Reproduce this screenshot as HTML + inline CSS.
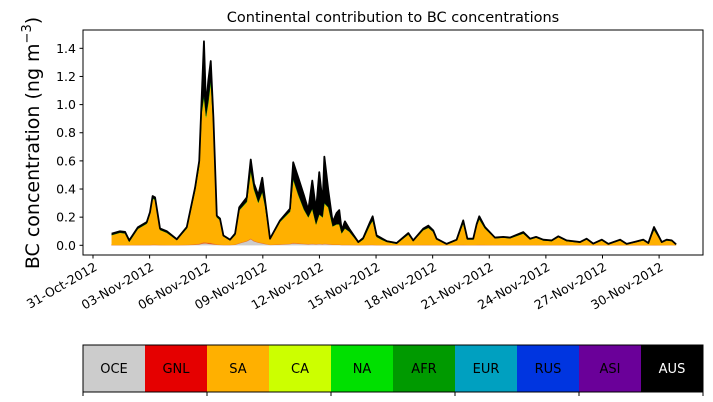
<!DOCTYPE html>
<html><head><meta charset="utf-8"><style>
html,body{margin:0;padding:0;background:#fff;}
svg{display:block;font-family:"DejaVu Sans","Liberation Sans",sans-serif;}
</style></head><body>
<svg id="chart" width="713" height="402" viewBox="0 0 713 402" xmlns="http://www.w3.org/2000/svg">
<text x="393" y="22" font-size="14.5" text-anchor="middle">Continental contribution to BC concentrations</text>
<text transform="translate(39,143) rotate(-90)" font-size="19" text-anchor="middle">BC concentration (ng m<tspan dy="-8" font-size="13">−3</tspan><tspan dy="8">)</tspan></text>
<g id="marks"></g>
<g id="yaxis"></g>
<g id="xaxis"></g>
<rect x="83" y="30" width="620" height="225" fill="none" stroke="#000" stroke-width="1"/>
<g id="legend"></g>
</svg>
<script>
// days since 31-Oct-2012
const days = [0.99,1.43,1.70,1.92,2.38,2.85,3.02,3.16,3.29,3.55,3.91,4.44,4.97,5.41,5.63,5.76,5.88,5.99,6.11,6.24,6.38,6.56,6.73,6.91,7.26,7.53,7.75,8.15,8.36,8.53,8.76,8.97,9.12,9.38,9.91,10.44,10.61,10.88,11.18,11.41,11.62,11.82,11.99,12.17,12.26,12.47,12.70,12.91,13.05,13.18,13.35,13.58,14.06,14.32,14.68,14.82,15.03,15.30,15.56,16.09,16.71,16.97,17.50,17.77,18.03,18.21,18.74,19.27,19.62,19.84,20.15,20.33,20.47,20.77,21.30,21.74,22.10,22.80,23.16,23.48,23.86,24.31,24.66,25.10,25.81,26.16,26.51,26.96,27.31,27.93,28.28,29.16,29.43,29.73,30.14,30.40,30.67,30.90];
const totalVals = [0.083,0.10,0.095,0.035,0.128,0.165,0.236,0.35,0.34,0.12,0.10,0.043,0.13,0.41,0.60,1.05,1.45,0.98,1.17,1.31,0.91,0.21,0.19,0.07,0.04,0.083,0.27,0.34,0.61,0.44,0.355,0.48,0.32,0.047,0.177,0.26,0.59,0.48,0.355,0.25,0.46,0.25,0.52,0.30,0.63,0.39,0.165,0.23,0.25,0.106,0.17,0.118,0.023,0.052,0.165,0.206,0.07,0.05,0.03,0.016,0.087,0.035,0.118,0.14,0.106,0.047,0.01,0.04,0.177,0.047,0.047,0.15,0.206,0.13,0.055,0.06,0.055,0.094,0.047,0.06,0.04,0.035,0.064,0.035,0.023,0.047,0.012,0.04,0.01,0.04,0.01,0.04,0.016,0.13,0.023,0.04,0.035,0.007];
const ausVals = [0.01,0.01,0.01,0.01,0.01,0.01,0.01,0.015,0.015,0.01,0.01,0.005,0.01,0.02,0.03,0.10,0.39,0.06,0.15,0.14,0.05,0.01,0.01,0.005,0.005,0.01,0.02,0.03,0.08,0.04,0.05,0.10,0.04,0.005,0.01,0.02,0.12,0.12,0.10,0.05,0.20,0.10,0.30,0.10,0.33,0.12,0.03,0.08,0.10,0.02,0.05,0.02,0.005,0.01,0.02,0.03,0.01,0.01,0.005,0.005,0.01,0.005,0.01,0.015,0.01,0.005,0.003,0.005,0.02,0.005,0.005,0.01,0.02,0.01,0.005,0.005,0.005,0.01,0.005,0.005,0.005,0.005,0.005,0.005,0.003,0.005,0.003,0.005,0.003,0.005,0.003,0.005,0.003,0.02,0.003,0.005,0.005,0.002];
const oceVals = [0.002,0.002,0.002,0.002,0.002,0.002,0.002,0.003,0.003,0.002,0.002,0.002,0.003,0.005,0.008,0.012,0.015,0.015,0.012,0.01,0.008,0.005,0.004,0.003,0.003,0.005,0.015,0.03,0.045,0.03,0.02,0.015,0.01,0.004,0.006,0.01,0.015,0.012,0.01,0.008,0.01,0.008,0.01,0.008,0.01,0.008,0.005,0.005,0.005,0.003,0.003,0.003,0.002,0.002,0.003,0.003,0.002,0.002,0.002,0.002,0.002,0.002,0.002,0.002,0.002,0.002,0.001,0.002,0.003,0.002,0.002,0.002,0.003,0.002,0.002,0.002,0.002,0.002,0.002,0.002,0.002,0.002,0.002,0.002,0.002,0.002,0.001,0.002,0.001,0.002,0.001,0.002,0.001,0.002,0.001,0.002,0.002,0.001];
const gnlShare = 0.006;  // fraction of non-AUS total from GNL
const naShare = 0.012;   // fraction of non-AUS total from NA
const yTicks = [0.0,0.2,0.4,0.6,0.8,1.0,1.2,1.4];
const xTickDays = [0,3,6,9,12,15,18,21,24,27,30];
const xTickLabels = ["31-Oct-2012","03-Nov-2012","06-Nov-2012","09-Nov-2012","12-Nov-2012","15-Nov-2012","18-Nov-2012","21-Nov-2012","24-Nov-2012","27-Nov-2012","30-Nov-2012"];
const regions = ["OCE","GNL","SA","CA","NA","AFR","EUR","RUS","ASI","AUS"];
const regionColors = ["#cccccc","#e50000","#ffb000","#ccff00","#00e000","#009a00","#00a0c0","#0035e0","#6a0099","#000000"];

const NS="http://www.w3.org/2000/svg";
const X = d => 93 + d*18.87;
const Y = v => 245.3 - v*140.7;
function mk(tag, attrs, parent){const e=document.createElementNS(NS,tag);for(const k in attrs)e.setAttribute(k,attrs[k]);parent.appendChild(e);return e;}

const n = days.length;
const oce=[],gnl=[],sa=[],na=[],aus=[];
for(let i=0;i<n;i++){
  const rest = Math.max(0,totalVals[i]-ausVals[i]);
  oce.push(Math.min(oceVals[i],rest));
  gnl.push(rest*gnlShare);
  na.push(rest*naShare);
  sa.push(Math.max(0,rest-oce[i]-gnl[i]-na[i]));
  aus.push(ausVals[i]);
}
const layers=[["OCE",oce,"#cccccc"],["GNL",gnl,"#e50000"],["SA",sa,"#ffb000"],["NA",na,"#00e000"],["AUS",aus,"#000000"]];
const marks=document.getElementById('marks');
let base=new Array(n).fill(0);
layers.forEach(([name,vals,col])=>{
  const top=base.map((b,i)=>b+vals[i]);
  let d="M"+days.map((dd,i)=>X(dd).toFixed(2)+","+Y(top[i]).toFixed(2)).join("L");
  for(let i=n-1;i>=0;i--) d+="L"+X(days[i]).toFixed(2)+","+Y(base[i]).toFixed(2);
  d+="Z";
  const p=mk('path',{d:d,fill:col,stroke:name==="GNL"?"#e8702a":col,'stroke-width':name==="GNL"?0.8:0.3},marks);
  
  
  base=top;
});
const line=mk('polyline',{points:days.map((dd,i)=>X(dd).toFixed(2)+","+Y(totalVals[i]).toFixed(2)).join(" "),fill:"none",stroke:"#000","stroke-width":1.8,'stroke-linejoin':'round'},marks);



const ya=document.getElementById('yaxis');
yTicks.forEach(v=>{
  const t=mk('line',{x1:79.5,x2:83,y1:Y(v),y2:Y(v),stroke:"#000"},ya);
  
  
  const l=mk('text',{x:76,y:Y(v)+4.5,'font-size':12.5,'text-anchor':'end'},ya);
  l.textContent=v.toFixed(1);
  
  
});
const xa=document.getElementById('xaxis');
xTickDays.forEach((d,i)=>{
  const t=mk('line',{x1:X(d),x2:X(d),y1:255,y2:258.5,stroke:"#000"},xa);
  
  
  const l=mk('text',{transform:`translate(${X(d)+3},${266}) rotate(-30)`,'font-size':12.5,'text-anchor':'end',y:4},xa);
  l.textContent=xTickLabels[i];
  
  
});
const lg=document.getElementById('legend');
const w=62;
regions.forEach((r,i)=>{
  const rc=mk('rect',{x:83+i*w,y:345,width:w,height:47,fill:regionColors[i]},lg);
  
  
  const tx=mk('text',{x:83+i*w+w/2,y:373,'font-size':13,'text-anchor':'middle',fill:r==="AUS"?"#fff":"#000"},lg);
  tx.textContent=r;
  
  
});
const fr=mk('rect',{x:83,y:345,width:620,height:47,fill:"none",stroke:"#000"},lg);


[0,1,2,3,4,5].forEach(k=>{
  const t=mk('line',{x1:83+k*124,x2:83+k*124,y1:392,y2:396,stroke:"#000"},lg);
  
  
});
</script>
</body></html>
